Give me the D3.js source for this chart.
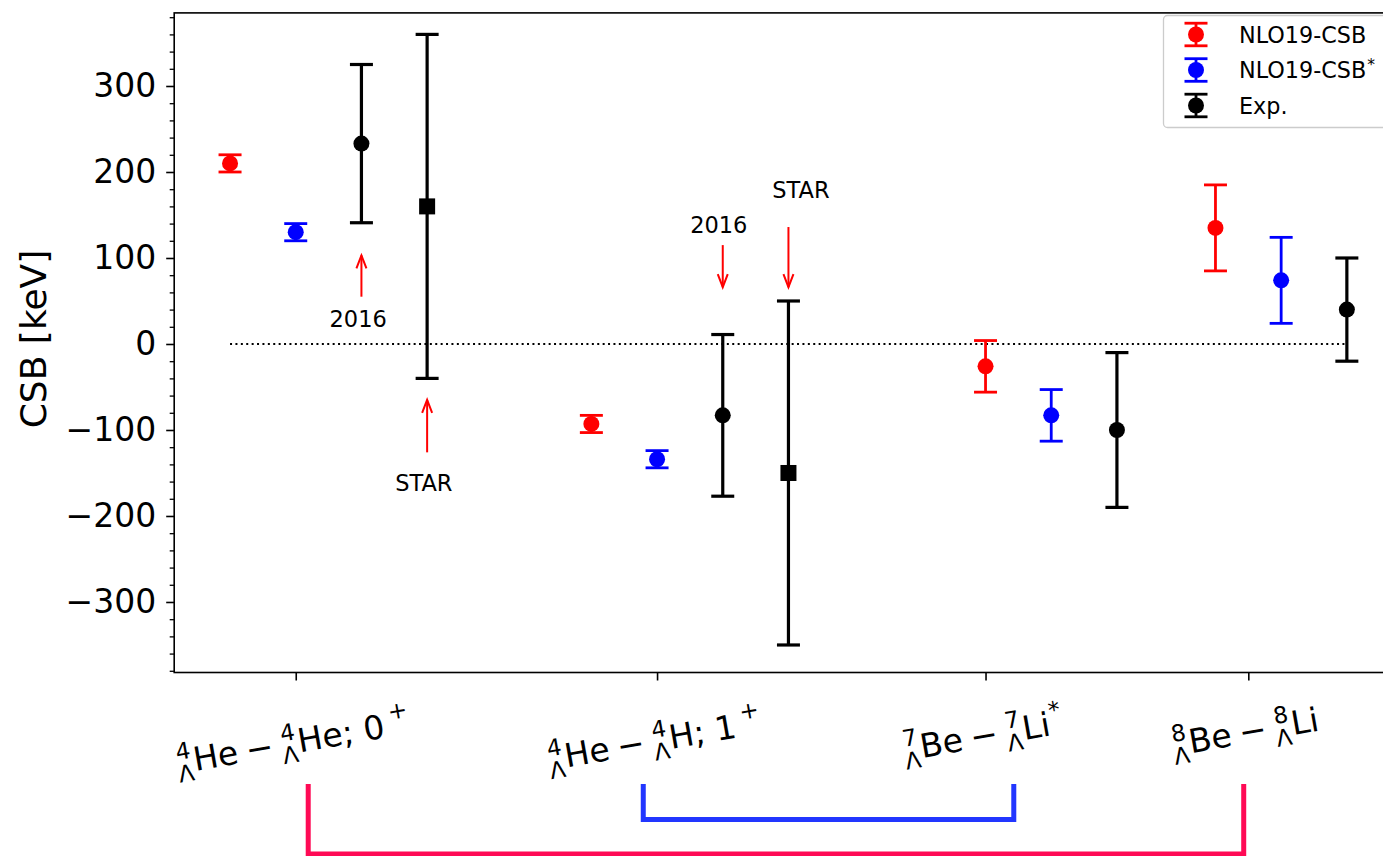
<!DOCTYPE html>
<html>
<head>
<meta charset="utf-8">
<script src="https://cdn.jsdelivr.net/npm/d3@7"></script>
<style>
  html, body { margin: 0; padding: 0; background: #fff; overflow: hidden; }
  svg { display: block; }
  text { font-family: "DejaVu Sans", sans-serif; white-space: pre; }
</style>
</head>
<body>
<svg id="chart" width="1383" height="856"></svg>
<script>
// ---- data (CSB in keV, x = slot position along the axis) ----
const seriesNames = ["NLO19-CSB", "NLO19-CSB*", "Exp."];
const redX = [0, 5.5, 11.5, 15];
const redY = [210, -93, -26, 135];
const redErr = [10, 10, 30, 50];
const blueX = [1, 6.5, 12.5, 16];
const blueY = [130, -134, -83, 74];
const blueErr = [10, 10, 30, 50];
const expX = [2, 7.5, 13.5, 17];
const expY = [233, -83, -100, 40];
const expErr = [92, 94, 90, 60];
const starX = [3, 8.5];
const starY = [160, -150];
const starErr = [200, 200];
const tickPos = [1, 6.5, 11.5, 15.5];
const yTicks = [-300, -200, -100, 0, 100, 200, 300];
// category labels: {pre:[sup, sub]} prescripts, {t} plain run, {op} spaced operator, {sup} superscript
const tickLabels = [
  [{pre: ["4", "Λ"]}, {t: "He"}, {op: "−"}, {pre: ["4", "Λ"]}, {t: "He; 0"}, {sup: "+", gap: 6}],
  [{pre: ["4", "Λ"]}, {t: "He"}, {op: "−"}, {pre: ["4", "Λ"]}, {t: "H; 1"}, {sup: "+", gap: 6}],
  [{pre: ["7", "Λ"]}, {t: "Be"}, {op: "−"}, {pre: ["7", "Λ"]}, {t: "Li"}, {sup: "*", gap: 1}],
  [{pre: ["8", "Λ"]}, {t: "Be"}, {op: "−"}, {pre: ["8", "Λ"]}, {t: "Li"}]
];
// annotations: arrow at x from yTail to yTip, text centred at (tx, ty)
const notes = [
  {label: "2016", x: 2, yTail: 55, yTip: 103, tx: 1.95, ty: 20},
  {label: "STAR", x: 3, yTail: -126, yTip: -65, tx: 2.95, ty: -171},
  {label: "2016", x: 7.5, yTail: 115, yTip: 66, tx: 7.44, ty: 129},
  {label: "STAR", x: 8.5, yTail: 136, yTip: 66, tx: 8.69, ty: 170}
];
// grouping brackets below the axis (x spans in slot units)
const bracketSpans = [[1.19, 15.43], [6.29, 11.93]];
const bracketColors = ["#ff0a55", "#2236ff"];
const bracketDepth = [854, 819.5];

// ---- layout ----
const svg = d3.select("#chart");
const x = d3.scaleLinear().domain([-0.85, 17.85]).range([174.2, 1402.7]);
const y = d3.scaleLinear().domain([-382, 385]).range([672.5, 12.9]);
const FS = 33;

// zero line
svg.append("line")
  .attr("x1", x(0)).attr("x2", x(17))
  .attr("y1", y(0)).attr("y2", y(0))
  .attr("stroke", "#000").attr("stroke-width", 2)
  .attr("stroke-dasharray", "2,3.4");

// ---- error bars ----
function errorSeries(xs, ys, es, color, lw, shape) {
  const g = svg.append("g");
  xs.forEach((xv, i) => {
    const cx = x(xv), lo = y(ys[i] - es[i]), hi = y(ys[i] + es[i]);
    g.append("line").attr("x1", cx).attr("x2", cx).attr("y1", lo).attr("y2", hi)
      .attr("stroke", color).attr("stroke-width", lw);
    [lo, hi].forEach(cy => g.append("line")
      .attr("x1", cx - 11.5).attr("x2", cx + 11.5).attr("y1", cy).attr("y2", cy)
      .attr("stroke", color).attr("stroke-width", lw));
    if (shape === "square") {
      g.append("rect").attr("x", cx - 8).attr("y", y(ys[i]) - 8)
        .attr("width", 16).attr("height", 16).attr("fill", color);
    } else {
      g.append("circle").attr("cx", cx).attr("cy", y(ys[i])).attr("r", 8).attr("fill", color);
    }
  });
}
errorSeries(redX, redY, redErr, "#ff0000", 2.8, "circle");
errorSeries(blueX, blueY, blueErr, "#0000ff", 2.8, "circle");
errorSeries(expX, expY, expErr, "#000000", 3.2, "circle");
errorSeries(starX, starY, starErr, "#000000", 3.2, "square");

// ---- annotations ----
notes.forEach(n => {
  const ax = x(n.x), t = y(n.yTip), s = y(n.yTail);
  const dir = Math.sign(s - t); // +1 when pointing up
  svg.append("line").attr("x1", ax).attr("x2", ax).attr("y1", s).attr("y2", t)
    .attr("stroke", "#ff0000").attr("stroke-width", 2);
  svg.append("path")
    .attr("d", `M${ax - 5},${t + dir * 13}L${ax},${t}L${ax + 5},${t + dir * 13}`)
    .attr("fill", "none").attr("stroke", "#ff0000").attr("stroke-width", 2);
  svg.append("text").attr("x", x(n.tx)).attr("y", y(n.ty))
    .attr("text-anchor", "middle").style("font-size", "22.5px").text(n.label);
});

// ---- axes ----
const yMinor = d3.range(-380, 400, 20).filter(v => v % 100 !== 0);
svg.append("g").attr("transform", `translate(${x.range()[0]},0)`)
  .call(d3.axisLeft(y).tickValues(yMinor).tickSize(4.5).tickFormat(""))
  .call(g => g.select(".domain").remove())
  .call(g => g.selectAll("line").attr("stroke-width", 1.3));
svg.append("g").attr("transform", `translate(${x.range()[0]},0)`)
  .call(d3.axisLeft(y).tickValues(yTicks).tickSize(8).tickPadding(10))
  .call(g => g.select(".domain").remove())
  .call(g => g.selectAll("line").attr("stroke-width", 1.6))
  .call(g => g.selectAll("text").style("font-size", FS + "px")
    .style("font-family", '"DejaVu Sans", sans-serif').attr("fill", "#000"));
svg.append("g").attr("transform", `translate(0,${y.range()[0]})`)
  .call(d3.axisBottom(x).tickValues(tickPos).tickSize(8).tickFormat(""))
  .call(g => g.select(".domain").remove())
  .call(g => g.selectAll("line").attr("stroke-width", 1.6));
// frame
svg.append("rect")
  .attr("x", x.range()[0]).attr("y", y.range()[1])
  .attr("width", x.range()[1] - x.range()[0]).attr("height", y.range()[0] - y.range()[1])
  .attr("fill", "none").attr("stroke", "#000").attr("stroke-width", 1.6);

// y axis title
svg.append("text").attr("transform", `translate(33,339) rotate(-90)`)
  .attr("text-anchor", "middle").attr("dominant-baseline", "central")
  .style("font-size", "36px").text("CSB [keV]");

// ---- category labels (rotated, with nuclear prescripts) ----
function mathLabel(g, parts, fs) {
  const small = fs * 0.7;
  let cx = 0;
  const put = (txt, px, py, size) => {
    const el = g.append("text").attr("x", px).attr("y", py).style("font-size", size + "px").text(txt);
    return el.node().getComputedTextLength();
  };
  parts.forEach(p => {
    if (p.pre) {
      const a = put(p.pre[0], cx + 1, -0.42 * fs, small);
      const b = put(p.pre[1], cx, 0.27 * fs, small);
      cx += Math.max(a + 1, b) + 1.5;
    } else if (p.op) {
      cx += 8;
      cx += put(p.op, cx, 0, fs);
      cx += 8;
    } else if (p.sup) {
      cx += p.gap || 0;
      cx += put(p.sup, cx, -0.5 * fs, small);
    } else {
      cx += put(p.t, cx, 0, fs);
    }
  });
}
tickLabels.forEach((parts, i) => {
  const outer = svg.append("g");
  const rot = outer.append("g");
  const inner = rot.append("g");
  mathLabel(inner, parts, FS);
  const b = inner.node().getBBox();
  inner.attr("transform", `translate(${-(b.x + b.width / 2)},${-(b.y + b.height / 2)})`);
  rot.attr("transform", "rotate(-10)");
  const ob = outer.node().getBBox();
  outer.attr("transform", `translate(${x(tickPos[i]) - 3 - (ob.x + ob.width / 2)},${696 - ob.y})`);
});

// ---- grouping brackets ----
bracketSpans.forEach((s, i) => {
  const x0 = x(s[0]), x1 = x(s[1]), top = 784, bot = bracketDepth[i];
  svg.append("path").attr("d", `M${x0},${top}V${bot}H${x1}V${top}`)
    .attr("fill", "none").attr("stroke", bracketColors[i]).attr("stroke-width", 5);
});

// ---- legend ----
const legendColors = ["#ff0000", "#0000ff", "#000000"];
const lg = svg.append("g");
lg.append("rect").attr("x", 1163.5).attr("y", 15.5).attr("width", 229).attr("height", 112)
  .attr("rx", 4).attr("fill", "#fff").attr("fill-opacity", 0.8)
  .attr("stroke", "#cccccc").attr("stroke-width", 1.3);
seriesNames.forEach((name, i) => {
  const ry = 34.5 + i * 35.5, mx = 1196;
  const c = legendColors[i];
  lg.append("line").attr("x1", mx).attr("x2", mx).attr("y1", ry - 11.3).attr("y2", ry + 11.3)
    .attr("stroke", c).attr("stroke-width", 2.8);
  [ry - 11.3, ry + 11.3].forEach(cy => lg.append("line")
    .attr("x1", mx - 11.5).attr("x2", mx + 11.5).attr("y1", cy).attr("y2", cy)
    .attr("stroke", c).attr("stroke-width", 2.8));
  lg.append("circle").attr("cx", mx).attr("cy", ry).attr("r", 8).attr("fill", c);
  const base = name.replace("*", "");
  const t = lg.append("text").attr("x", 1239).attr("y", ry + 8.2).style("font-size", "22.3px");
  t.append("tspan").text(base);
  if (name.endsWith("*")) {
    t.append("tspan").attr("dy", -8.5).attr("dx", 1).style("font-size", "15.5px").text("*");
  }
});
</script>
</body>
</html>
